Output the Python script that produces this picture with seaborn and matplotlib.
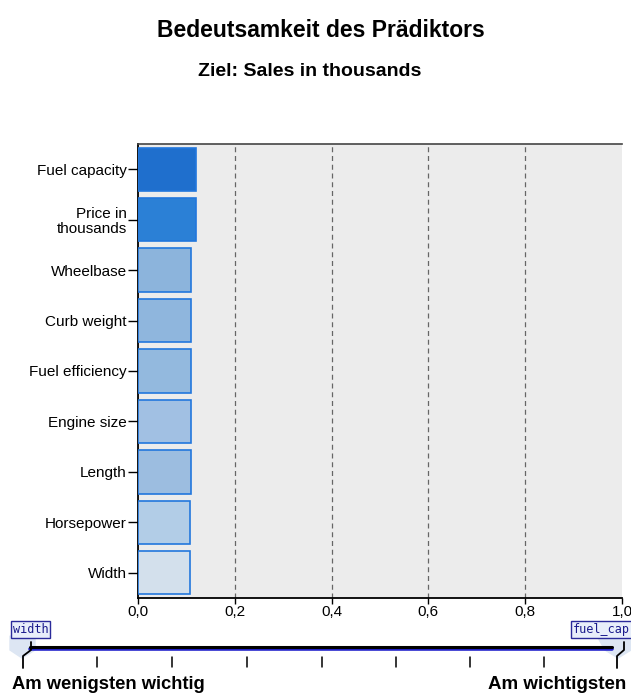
import matplotlib
matplotlib.use('Agg')
import matplotlib.pyplot as plt
import matplotlib.ticker as mticker
import seaborn as sns
import pandas as pd

# Predictor importance values
predictors = ['Fuel capacity', 'Price in\nthousands', 'Wheelbase', 'Curb weight',
              'Fuel efficiency', 'Engine size', 'Length', 'Horsepower', 'Width']
importance = [0.120, 0.119, 0.110, 0.110, 0.110, 0.109, 0.109, 0.107, 0.107]
bar_colors = ['#1f6fcd', '#2b80d6', '#8cb4dc', '#8fb6dd', '#93b9de',
              '#a1c0e3', '#9cbde0', '#b2cde7', '#d3e0ec']
x_ticks = [0.0, 0.2, 0.4, 0.6, 0.8, 1.0]

df = pd.DataFrame({'predictor': predictors, 'importance': importance})

sns.set_style('white')
plt.rcParams['font.family'] = ['Liberation Sans', 'DejaVu Sans']
plt.rcParams['text.color'] = 'black'
plt.rcParams['xtick.color'] = 'black'
plt.rcParams['ytick.color'] = 'black'

fig = plt.figure(figsize=(6.31, 6.98), dpi=100)
ax = fig.add_axes([0.2187, 0.1433, 0.7670, 0.6504])
ax.set_facecolor('#ececec')

sns.barplot(data=df, x='importance', y='predictor', hue='predictor',
            palette=bar_colors, saturation=1, orient='h', width=0.86, legend=False,
            edgecolor='#2277dd', linewidth=1.2, ax=ax, zorder=3)

ax.set_xlim(0, 1.0)
ax.set_xticks(x_ticks)
ax.xaxis.set_major_formatter(mticker.FuncFormatter(lambda v, p: f'{v:.1f}'.replace('.', ',')))
for v in x_ticks[1:-1]:
    ax.axvline(v, color='#666666', linestyle=(0, (4, 3)), linewidth=0.9, zorder=1)

ax.set_xlabel('')
ax.set_ylabel('')
ax.tick_params(axis='both', which='major', bottom=True, left=True, direction='out',
               length=7, width=1, color='black', labelcolor='black', labelsize=11, pad=1)
ax.tick_params(axis='x', length=4, pad=1)
for lab in ax.get_yticklabels():
    lab.set_horizontalalignment('right')
    lab.set_linespacing(1.05)
for side in ['left', 'bottom']:
    ax.spines[side].set_color('black')
    ax.spines[side].set_linewidth(1.3)
ax.spines['top'].set_color('#444444')
ax.spines['top'].set_linewidth(1.2)
ax.spines['right'].set_visible(False)

fig.text(0.509, 0.957, 'Bedeutsamkeit des Prädiktors', ha='center', va='center',
         fontsize=16.5, fontweight='bold')
fig.text(0.490, 0.897, 'Ziel: Sales in thousands', ha='center', va='center',
         fontsize=14, fontweight='bold')

# slider decoration at the bottom (coordinates in image pixels)
sl = fig.add_axes([0, 0, 1, 98 / 698])
sl.set_xlim(0, 631)
sl.set_ylim(698, 600)
sl.axis('off')
sl.fill([10, 35, 35, 22, 10], [636, 636, 650, 658, 650], color='#dde6f3', zorder=1)
sl.fill([597, 631, 631, 618, 605], [636, 636, 650, 658, 650], color='#dde6f3', zorder=1)
sl.plot([30, 612], [649.5, 649.5], color='#2222cc', linewidth=2.6, zorder=2)
sl.plot([30, 612], [647, 647], color='black', linewidth=2.2, zorder=3)
for x in [97, 172, 247, 322, 396, 470, 544]:
    sl.plot([x, x], [657, 667], color='black', linewidth=1.1)
sl.plot([23, 23, 31, 31], [668, 656, 650, 642], color='black', linewidth=1.3, zorder=4)
sl.plot([617, 617, 624, 624], [668, 656, 650, 642], color='black', linewidth=1.3, zorder=4)
sl.text(13, 629.5, 'width', fontsize=8.5, color='#1a1a8c', family='DejaVu Sans Mono',
        va='center', ha='left', zorder=5,
        bbox=dict(boxstyle='square,pad=0.15', fc='#e8eefa', ec='#2a2a9a', lw=1))
sl.text(573, 629.5, 'fuel_cap', fontsize=8.5, color='#1a1a8c', family='DejaVu Sans Mono',
        va='center', ha='left', clip_on=False, zorder=5,
        bbox=dict(boxstyle='square,pad=0.15', fc='#e8eefa', ec='#2a2a9a', lw=1))
sl.text(12, 685, 'Am wenigsten wichtig', fontsize=13.2, fontweight='bold',
        ha='left', va='center')
sl.text(626, 685, 'Am wichtigsten', fontsize=13.5, fontweight='bold',
        ha='right', va='center')

fig.savefig('out.png', dpi=100, facecolor='white')
